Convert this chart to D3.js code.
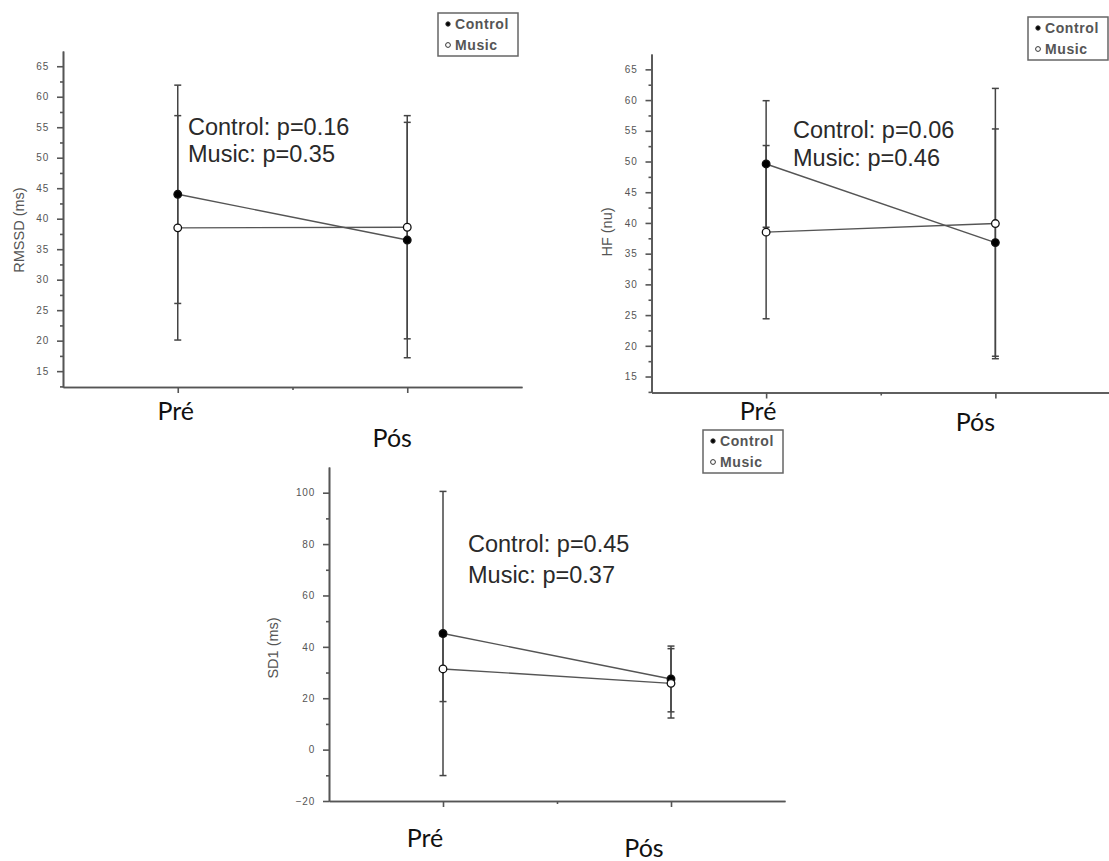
<!DOCTYPE html>
<html lang="pt">
<head>
<meta charset="UTF-8">
<title>RMSSD, HF e SD1 - Pré / Pós</title>
<style>
  body { margin: 0; background: #fff; }
  svg { display: block; }
  .axis path, .axis line { stroke: #555; stroke-width: 1.6; }
  .axis text { font-family: "Liberation Sans", Arial, sans-serif; font-size: 10px; fill: #555; letter-spacing: 0.8px; }
  .ylab { font-family: "Liberation Sans", Arial, sans-serif; font-size: 14.5px; fill: #555; }
  .note { font-family: "Liberation Sans", Arial, sans-serif; font-size: 23.5px; fill: #2a2a2a; }
  .phase { font-family: Lato, "Open Sans", sans-serif; font-size: 25px; fill: #111; }
  .legend text { font-family: "Liberation Sans", Arial, sans-serif; font-size: 14px; font-weight: bold; fill: #555; letter-spacing: 0.6px; }
</style>
</head>
<body>
<svg width="1109" height="861"></svg>
<script src="https://d3js.org/d3.v7.min.js"></script>
<script>
// dados (média e desvio padrão)
const phases = ["Pré", "Pós"];
const groups = ["Control", "Music"];

const rmssdControl = [44.0, 36.5];
const rmssdControlSD = [17.9, 19.3];
const rmssdMusic = [38.5, 38.6];
const rmssdMusicSD = [18.4, 18.3];
const rmssdP = ["0.16", "0.35"];

const hfControl = [49.6, 36.8];
const hfControlSD = [10.3, 18.5];
const hfMusic = [38.5, 39.9];
const hfMusicSD = [14.1, 22.0];
const hfP = ["0.06", "0.46"];

const sd1Control = [45.2, 27.5];
const sd1ControlSD = [55.3, 12.8];
const sd1Music = [31.4, 25.8];
const sd1MusicSD = [12.7, 13.5];
const sd1P = ["0.45", "0.37"];

const ticks5 = [15, 20, 25, 30, 35, 40, 45, 50, 55, 60, 65];
const ticks20 = [-20, 0, 20, 40, 60, 80, 100];

const svg = d3.select("svg");

// cada painel: posição, escalas e onde ficam os textos
const panels = [
  {
    label: "RMSSD (ms)",
    control: rmssdControl, controlSD: rmssdControlSD,
    music: rmssdMusic, musicSD: rmssdMusicSD, p: rmssdP,
    xRange: [63, 522], yDomain: [12.4, 67.5], yRange: [387, 51],
    ticks: ticks5, minorStep: 2.5,
    ylab: [19, 230],
    note: [188, 135], noteGap: 27,
    legend: [438, 13],
    phaseLab: [[-2, 420], [-15, 447]]
  },
  {
    label: "HF (nu)",
    control: hfControl, controlSD: hfControlSD,
    music: hfMusic, musicSD: hfMusicSD, p: hfP,
    xRange: [651.5, 1110], yDomain: [12.4, 67.5], yRange: [392.5, 54],
    ticks: ticks5, minorStep: 2.5,
    ylab: [607, 232],
    note: [793, 138], noteGap: 28,
    legend: [1028, 17],
    phaseLab: [[-8, 420], [-20, 431]]
  },
  {
    label: "SD1 (ms)",
    control: sd1Control, controlSD: sd1ControlSD,
    music: sd1Music, musicSD: sd1MusicSD, p: sd1P,
    xRange: [329, 785], yDomain: [-20, 110], yRange: [801, 467],
    ticks: ticks20, minorStep: 10,
    ylab: [273, 648],
    note: [468, 552], noteGap: 31,
    legend: [703, 430],
    phaseLab: [[-18, 847], [-27, 857]]
  }
];

panels.forEach(drawPanel);

function drawPanel(cfg) {
  const x = d3.scaleLinear().domain([0.5, 2.5]).range(cfg.xRange);
  const y = d3.scaleLinear().domain(cfg.yDomain).range(cfg.yRange);
  const g = svg.append("g");
  const x0 = cfg.xRange[0], yBase = cfg.yRange[0];

  // eixo y: ticks maiores e menores
  const minor = d3.range(Math.ceil(cfg.yDomain[0] / cfg.minorStep) * cfg.minorStep, cfg.yDomain[1], cfg.minorStep)
    .filter(v => !cfg.ticks.includes(v));
  g.append("g").attr("class", "axis")
    .attr("transform", `translate(${x0},0)`)
    .call(d3.axisLeft(y).tickValues(minor).tickSize(3).tickSizeOuter(0).tickFormat(""));
  g.append("g").attr("class", "axis")
    .attr("transform", `translate(${x0},0)`)
    .call(d3.axisLeft(y).tickValues(cfg.ticks).tickSize(6).tickSizeOuter(0).tickPadding(8));

  // eixo x
  g.append("g").attr("class", "axis")
    .attr("transform", `translate(0,${yBase})`)
    .call(d3.axisBottom(x).tickValues([1.5]).tickSize(3).tickSizeOuter(0).tickFormat(""));
  g.append("g").attr("class", "axis")
    .attr("transform", `translate(0,${yBase})`)
    .call(d3.axisBottom(x).tickValues([1, 2]).tickSize(6).tickSizeOuter(0).tickFormat(""));

  g.append("text").attr("class", "ylab")
    .attr("text-anchor", "middle")
    .attr("transform", `translate(${cfg.ylab[0]},${cfg.ylab[1]}) rotate(-90)`)
    .attr("dy", "0.35em")
    .text(cfg.label);

  const series = [
    { name: "Control", mean: cfg.control, sd: cfg.controlSD, fill: "#000" },
    { name: "Music", mean: cfg.music, sd: cfg.musicSD, fill: "#fff" }
  ];

  // barras de erro
  series.forEach(s => {
    s.mean.forEach((m, i) => {
      const cx = x(i + 1);
      const eb = g.append("g").attr("stroke", "#444").attr("stroke-width", 1.5);
      eb.append("line").attr("x1", cx).attr("x2", cx).attr("y1", y(m - s.sd[i])).attr("y2", y(m + s.sd[i]));
      [m - s.sd[i], m + s.sd[i]].forEach(v => {
        eb.append("line").attr("x1", cx - 3.5).attr("x2", cx + 3.5).attr("y1", y(v)).attr("y2", y(v));
      });
    });
  });

  const line = d3.line().x((d, i) => x(i + 1)).y(d => y(d));
  series.forEach(s => {
    g.append("path").datum(s.mean)
      .attr("d", line)
      .attr("fill", "none")
      .attr("stroke", "#555")
      .attr("stroke-width", 1.4);
  });

  series.forEach(s => {
    g.selectAll(null).data(s.mean).join("circle")
      .attr("cx", (d, i) => x(i + 1))
      .attr("cy", d => y(d))
      .attr("r", 3.8)
      .attr("fill", s.fill)
      .attr("stroke", "#111")
      .attr("stroke-width", 1.3);
  });

  // rótulos Pré / Pós
  phases.forEach((p, i) => {
    g.append("text").attr("class", "phase")
      .attr("x", x(i + 1) + cfg.phaseLab[i][0])
      .attr("y", cfg.phaseLab[i][1])
      .attr("text-anchor", "middle")
      .text(p);
  });

  // valores de p
  groups.forEach((name, i) => {
    g.append("text").attr("class", "note")
      .attr("x", cfg.note[0])
      .attr("y", cfg.note[1] + i * cfg.noteGap)
      .text(`${name}: p=${cfg.p[i]}`);
  });

  // legenda
  const lg = g.append("g").attr("class", "legend")
    .attr("transform", `translate(${cfg.legend[0]},${cfg.legend[1]})`);
  lg.append("rect").attr("width", 80).attr("height", 43)
    .attr("fill", "#fff").attr("stroke", "#666").attr("stroke-width", 1.5);
  series.forEach((s, i) => {
    lg.append("circle").attr("cx", 10).attr("cy", 11 + i * 21).attr("r", s.fill === "#000" ? 2.2 : 2.4)
      .attr("fill", s.fill).attr("stroke", "#333").attr("stroke-width", 1);
    lg.append("text").attr("x", 17).attr("y", 16 + i * 21).text(s.name);
  });
}
</script>
</body>
</html>
